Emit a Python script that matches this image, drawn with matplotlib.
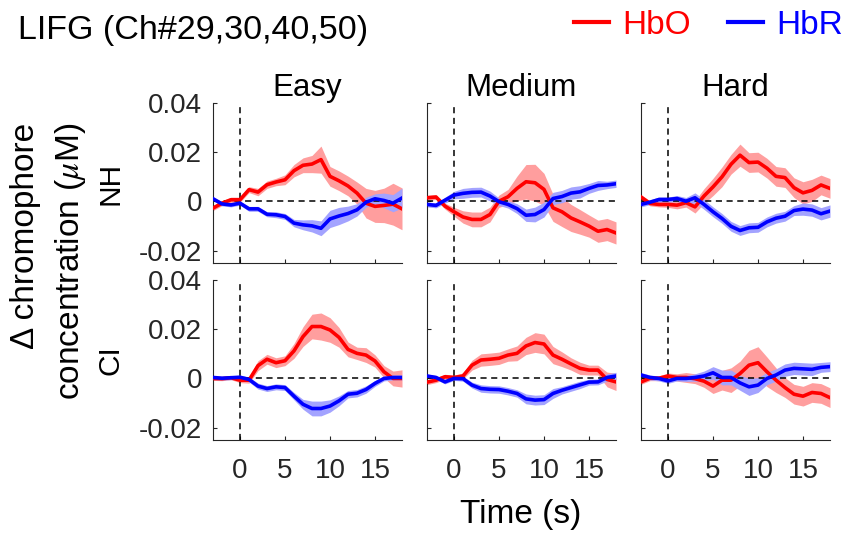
import matplotlib
matplotlib.use('Agg')
import matplotlib.pyplot as plt

plt.rcParams['font.family'] = ['Liberation Sans', 'DejaVu Sans']
plt.rcParams['mathtext.fontset'] = 'stix'

# time axis (s), sampled every second
time = list(range(-3, 19))

groups = ['NH', 'CI']
conditions = ['Easy', 'Medium', 'Hard']

# mean responses (uM)
nh_easy_hbo = [-0.0027, -0.0007, 0.0007, 0.0007, 0.0048, 0.0038, 0.0068, 0.0079, 0.0088, 0.0125, 0.0147,
               0.0152, 0.0170, 0.0102, 0.0084, 0.0063, 0.0034, -0.0007, -0.0020, -0.0016, -0.0011, -0.0030]
nh_easy_hbr = [0.0011, -0.0010, -0.0014, -0.0007, -0.0030, -0.0030, -0.0052, -0.0054, -0.0061, -0.0088, -0.0095,
               -0.0099, -0.0109, -0.0071, -0.0059, -0.0049, -0.0034, -0.0003, 0.0011, 0.0004, -0.0007, 0.0014]
nh_med_hbo = [0.0015, 0.0018, -0.0019, -0.0042, -0.0063, -0.0073, -0.0073, -0.0053, 0.0001, 0.0019, 0.0053,
              0.0080, 0.0076, 0.0049, -0.0026, -0.0042, -0.0067, -0.0083, -0.0100, -0.0121, -0.0114, -0.0128]
nh_med_hbr = [-0.0012, -0.0016, 0.0005, 0.0026, 0.0033, 0.0037, 0.0038, 0.0022, -0.0001, -0.0012, -0.0029,
              -0.0056, -0.0053, -0.0033, 0.0012, 0.0020, 0.0034, 0.0039, 0.0053, 0.0065, 0.0067, 0.0072]
nh_hard_hbo = [0.0018, -0.0008, -0.0012, -0.0012, -0.0015, -0.0005, -0.0022, 0.0022, 0.0059, 0.0100, 0.0151,
               0.0188, 0.0158, 0.0160, 0.0135, 0.0102, 0.0097, 0.0056, 0.0035, 0.0045, 0.0067, 0.0053]
nh_hard_hbr = [-0.0012, -0.0003, 0.0008, 0.0008, 0.0012, 0.0001, 0.0015, -0.0012, -0.0042, -0.0069, -0.0101,
               -0.0118, -0.0107, -0.0105, -0.0083, -0.0068, -0.0060, -0.0037, -0.0031, -0.0035, -0.0050, -0.0039]
ci_easy_hbo = [0.0000, -0.0001, 0.0003, -0.0007, -0.0007, 0.0052, 0.0078, 0.0064, 0.0072, 0.0112, 0.0170,
               0.0211, 0.0211, 0.0197, 0.0167, 0.0118, 0.0102, 0.0095, 0.0071, 0.0027, 0.0000, 0.0000]
ci_easy_hbr = [0.0004, 0.0001, 0.0003, 0.0005, -0.0004, -0.0031, -0.0041, -0.0034, -0.0037, -0.0072, -0.0105,
               -0.0122, -0.0122, -0.0112, -0.0091, -0.0064, -0.0060, -0.0045, -0.0020, 0.0000, 0.0004, 0.0004]
ci_med_hbo = [-0.0015, -0.0007, 0.0007, 0.0004, 0.0010, 0.0054, 0.0075, 0.0078, 0.0082, 0.0095, 0.0102,
              0.0132, 0.0146, 0.0140, 0.0095, 0.0078, 0.0059, 0.0041, 0.0034, 0.0034, -0.0004, -0.0014]
ci_med_hbr = [0.0010, 0.0004, -0.0014, 0.0000, -0.0001, -0.0027, -0.0041, -0.0044, -0.0045, -0.0052, -0.0061,
              -0.0083, -0.0088, -0.0086, -0.0061, -0.0048, -0.0037, -0.0026, -0.0015, -0.0014, 0.0004, 0.0010]
ci_hard_hbo = [-0.0014, 0.0001, 0.0001, 0.0010, 0.0004, 0.0004, -0.0001, -0.0011, -0.0031, -0.0007, -0.0007,
               0.0020, 0.0054, 0.0064, 0.0027, -0.0007, -0.0037, -0.0064, -0.0072, -0.0057, -0.0061, -0.0078]
ci_hard_hbr = [0.0014, 0.0004, 0.0000, -0.0010, 0.0000, 0.0000, 0.0004, 0.0010, 0.0023, 0.0004, 0.0004,
               -0.0018, -0.0034, -0.0027, 0.0000, 0.0014, 0.0034, 0.0041, 0.0039, 0.0037, 0.0045, 0.0048]

# standard error half-widths
nh_easy_hbo_err = [0.001, 0.001, 0.001, 0.001, 0.0012, 0.0015, 0.0015, 0.0015, 0.002, 0.0025, 0.003,
                   0.0035, 0.0055, 0.004, 0.004, 0.004, 0.0045, 0.006, 0.0065, 0.007, 0.0085, 0.0085]
nh_easy_hbr_err = [0.0008, 0.0008, 0.0008, 0.0008, 0.001, 0.001, 0.001, 0.0012, 0.0012, 0.0015, 0.002,
                   0.0025, 0.003, 0.0035, 0.0035, 0.003, 0.0025, 0.002, 0.002, 0.003, 0.0035, 0.004]
nh_med_hbo_err = [0.001, 0.001, 0.0012, 0.0018, 0.0025, 0.003, 0.003, 0.003, 0.0025, 0.003, 0.005,
                  0.007, 0.0075, 0.0065, 0.0055, 0.006, 0.0055, 0.005, 0.0045, 0.0045, 0.0045, 0.0045]
nh_med_hbr_err = [0.001, 0.001, 0.0012, 0.0015, 0.002, 0.002, 0.002, 0.002, 0.0015, 0.0015, 0.002,
                  0.0025, 0.003, 0.003, 0.0025, 0.0025, 0.0025, 0.0025, 0.002, 0.002, 0.0015, 0.0015]
nh_hard_hbo_err = [0.001, 0.001, 0.001, 0.0012, 0.0015, 0.0018, 0.0025, 0.003, 0.0035, 0.004, 0.004,
                   0.0045, 0.004, 0.004, 0.004, 0.004, 0.004, 0.004, 0.0045, 0.0045, 0.004, 0.004]
nh_hard_hbr_err = [0.001, 0.001, 0.001, 0.001, 0.0012, 0.0015, 0.002, 0.002, 0.002, 0.002, 0.002,
                   0.002, 0.002, 0.002, 0.002, 0.002, 0.002, 0.002, 0.0025, 0.0025, 0.0025, 0.0025]
ci_easy_hbo_err = [0.0008, 0.0008, 0.0008, 0.001, 0.0012, 0.002, 0.002, 0.002, 0.002, 0.003, 0.004,
                   0.005, 0.0055, 0.005, 0.004, 0.003, 0.0025, 0.003, 0.0025, 0.0025, 0.003, 0.0035]
ci_easy_hbr_err = [0.0008, 0.0008, 0.0008, 0.0008, 0.001, 0.0012, 0.0012, 0.0012, 0.0012, 0.0015, 0.002,
                   0.003, 0.003, 0.0025, 0.002, 0.0015, 0.0015, 0.0015, 0.0012, 0.001, 0.001, 0.001]
ci_med_hbo_err = [0.001, 0.001, 0.001, 0.001, 0.0012, 0.002, 0.0025, 0.0025, 0.0025, 0.0025, 0.003,
                  0.0035, 0.004, 0.004, 0.0035, 0.003, 0.0025, 0.0025, 0.002, 0.002, 0.003, 0.0035]
ci_med_hbr_err = [0.0008, 0.0008, 0.0008, 0.0008, 0.001, 0.0012, 0.0015, 0.0015, 0.0015, 0.0015, 0.0015,
                  0.002, 0.002, 0.002, 0.002, 0.0015, 0.0015, 0.0015, 0.0012, 0.0012, 0.0015, 0.0015]
ci_hard_hbo_err = [0.001, 0.001, 0.001, 0.0012, 0.0015, 0.002, 0.002, 0.0025, 0.003, 0.004, 0.005,
                   0.005, 0.006, 0.0065, 0.006, 0.005, 0.004, 0.004, 0.004, 0.004, 0.004, 0.004]
ci_hard_hbr_err = [0.001, 0.001, 0.001, 0.001, 0.001, 0.0012, 0.0015, 0.002, 0.0025, 0.003, 0.003,
                   0.003, 0.0035, 0.003, 0.0025, 0.0025, 0.0025, 0.0025, 0.0025, 0.0025, 0.002, 0.002]

panels = {
    ('NH', 'Easy'): (nh_easy_hbo, nh_easy_hbo_err, nh_easy_hbr, nh_easy_hbr_err),
    ('NH', 'Medium'): (nh_med_hbo, nh_med_hbo_err, nh_med_hbr, nh_med_hbr_err),
    ('NH', 'Hard'): (nh_hard_hbo, nh_hard_hbo_err, nh_hard_hbr, nh_hard_hbr_err),
    ('CI', 'Easy'): (ci_easy_hbo, ci_easy_hbo_err, ci_easy_hbr, ci_easy_hbr_err),
    ('CI', 'Medium'): (ci_med_hbo, ci_med_hbo_err, ci_med_hbr, ci_med_hbr_err),
    ('CI', 'Hard'): (ci_hard_hbo, ci_hard_hbo_err, ci_hard_hbr, ci_hard_hbr_err),
}

W, H = 845, 537
fig = plt.figure(figsize=(W / 100, H / 100), dpi=100)

lefts = [213, 427, 641]
tops = [103, 280]
aw, ah = 189, 160
axis_col = '#262626'

handles = []
for r, grp in enumerate(groups):
    for c, cond in enumerate(conditions):
        ax = fig.add_axes([lefts[c] / W, 1 - (tops[r] + ah) / H, aw / W, ah / H])
        hbo, hbo_e, hbr, hbr_e = panels[(grp, cond)]
        for m, e, col, fc in [(hbo, hbo_e, 'red', (1, 0.62, 0.62)),
                              (hbr, hbr_e, 'blue', (0.64, 0.64, 1))]:
            lo = [a - b for a, b in zip(m, e)]
            hi = [a + b for a, b in zip(m, e)]
            ax.fill_between(time, lo, hi, color=fc, lw=0, zorder=1)
        ax.axhline(0, color='k', lw=1.1, ls=(0, (4, 3)), zorder=2)
        ax.axvline(0, color='k', lw=1.1, ls=(0, (4, 3)), zorder=2)
        l1, = ax.plot(time, hbo, color='red', lw=2.6, zorder=3, label='HbO')
        l2, = ax.plot(time, hbr, color='blue', lw=2.6, zorder=3, label='HbR')
        if not handles:
            handles = [l1, l2]

        ax.set_xlim(-3, 18)
        ax.set_ylim(-0.025, 0.04)
        ax.set_xticks([0, 5, 10, 15])
        ax.set_yticks([-0.02, 0, 0.02, 0.04])
        for s in ['top', 'right']:
            ax.spines[s].set_visible(False)
        for s in ['left', 'bottom']:
            ax.spines[s].set_color(axis_col)
            ax.spines[s].set_linewidth(0.8)
        ax.tick_params(direction='in', length=3, width=0.8, color=axis_col,
                       labelcolor=axis_col, labelsize=20)
        ax.tick_params(axis='x', pad=13)
        ax.tick_params(axis='y', pad=8)
        if c == 0:
            ax.set_yticklabels(['-0.02', '0', '0.02', '0.04'])
        else:
            ax.set_yticklabels([])
        if r == 1:
            ax.set_xticklabels(['0', '5', '10', '15'])
        else:
            ax.set_xticklabels([])
        if r == 0:
            ax.set_title(cond, fontsize=22.5, pad=4)

# row labels
for r, grp in enumerate(groups):
    fig.text(111 / W, 1 - (tops[r] + ah / 2) / H, grp, rotation=90,
             ha='center', va='center', fontsize=21.5)

fig.text(49 / W, 1 - 261 / H, 'Δ chromophore\nconcentration ($\\mu$M)', rotation=90,
         ha='center', va='center', fontsize=24, linespacing=1.45, multialignment='right')
fig.text(521 / W, 1 - 515 / H, 'Time (s)', ha='center', va='center', fontsize=24)
fig.text(18 / W, 1 - 30 / H, 'LIFG (Ch#29,30,40,50)', ha='left', va='center', fontsize=24.5)

leg = fig.legend(handles, ['HbO', 'HbR'], loc='upper right', bbox_to_anchor=(843 / W, 1 - 10 / H),
                 ncol=2, frameon=False, fontsize=24, handlelength=1.05, handletextpad=0.4,
                 columnspacing=1.1, borderpad=0, borderaxespad=0)
for txt, col in zip(leg.get_texts(), ['red', 'blue']):
    txt.set_color(col)
for lh in leg.get_lines():
    lh.set_linewidth(3)

fig.savefig('out.png', dpi=100)
